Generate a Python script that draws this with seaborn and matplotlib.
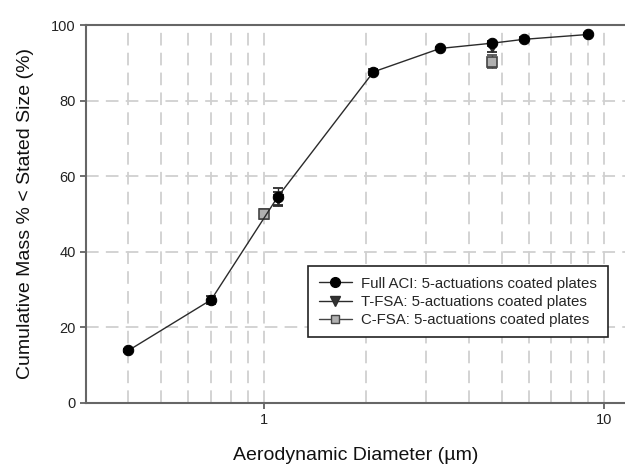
import numpy as np
import pandas as pd
import matplotlib
matplotlib.use('Agg')
import matplotlib.pyplot as plt
import seaborn as sns
from matplotlib.lines import Line2D
from matplotlib.ticker import LogLocator, NullFormatter, FixedLocator, FixedFormatter

# 数据
aci_x = [0.4, 0.7, 1.1, 2.1, 3.3, 4.7, 5.8, 9.0]
aci_y = [13.9, 27.3, 54.6, 87.6, 93.8, 95.2, 96.2, 97.5]
aci_err = [0.5, 1.0, 2.2, 0.7, 0.5, 0.7, 0.5, 0.4]

tfsa_x = [1.1, 4.7]
tfsa_y = [54.0, 94.3]
tfsa_err = [1.8, 1.4]

cfsa_x = [1.0, 4.7]
cfsa_y = [50.0, 90.3]
cfsa_err = [1.3, 1.7]

labels = ['Full ACI: 5-actuations coated plates',
          'T-FSA: 5-actuations coated plates',
          'C-FSA: 5-actuations coated plates']

sns.set_theme(style='ticks')
plt.rcParams['font.family'] = ['Liberation Sans', 'DejaVu Sans']

fig = plt.figure(figsize=(6.25, 4.7), dpi=100)
ax = fig.add_axes([0.1376, 0.1426, 0.8624, 0.8042])

dark = '#2b2b2b'
df = pd.DataFrame({'x': aci_x, 'y': aci_y})
sns.lineplot(data=df, x='x', y='y', ax=ax, color=dark, lw=1.0, marker='o',
             markersize=7.5, markerfacecolor='black', markeredgecolor='black', zorder=4)
ax.errorbar(aci_x, aci_y, yerr=aci_err, fmt='none', ecolor=dark, elinewidth=1,
            capsize=3.5, capthick=1.3, zorder=3)

ax.errorbar(tfsa_x, tfsa_y, yerr=tfsa_err, fmt='v', color=dark, ms=7,
            mfc='#333333', mec=dark, ecolor=dark, elinewidth=1, capsize=3.5,
            capthick=1.3, zorder=3)
ax.errorbar(cfsa_x, cfsa_y, yerr=cfsa_err, fmt='s', color='#444444', ms=6.5,
            mfc='#b0b0b0', mec='#444444', mew=1.2, ecolor='#444444', elinewidth=1,
            capsize=3.5, capthick=1.3, zorder=3)

ax.set_xscale('log')
ax.set_xlim(0.3, 11.53)
ax.set_ylim(0, 100)
ax.xaxis.set_major_locator(FixedLocator([1, 10]))
ax.xaxis.set_major_formatter(FixedFormatter(['1', '10']))
ax.xaxis.set_minor_locator(LogLocator(base=10, subs=np.arange(2, 10)))
ax.xaxis.set_minor_formatter(NullFormatter())
ax.set_yticks([0, 20, 40, 60, 80, 100])

grid_kw = dict(color='#d0d0d0', linestyle=(0, (7, 4)), linewidth=1.3)
ax.grid(True, which='both', axis='x', **grid_kw)
ax.grid(True, which='major', axis='y', **grid_kw)
ax.set_axisbelow(True)

ax.tick_params(axis='both', which='major', direction='out', length=4, width=1.2,
               color='#555555', labelsize=10.5, labelcolor='#222222')
ax.tick_params(axis='x', which='minor', length=0)

for side in ['left', 'bottom', 'top']:
    ax.spines[side].set_color('#666666')
    ax.spines[side].set_linewidth(1.5)
ax.spines['right'].set_visible(False)

ax.set_xlabel('Aerodynamic Diameter (µm)', fontsize=14, color='#111111', labelpad=14)
ax.set_ylabel('Cumulative Mass % < Stated Size (%)', fontsize=14, color='#111111', labelpad=12)

handles = [
    Line2D([], [], color=dark, lw=1, marker='o', ms=7, mfc='black', mec='black'),
    Line2D([], [], color=dark, lw=1, marker='v', ms=6.5, mfc='#333333', mec=dark),
    Line2D([], [], color='#444444', lw=1, marker='s', ms=6, mfc='#b0b0b0', mec='#444444'),
]
leg = ax.legend(handles, labels, loc='upper left', bbox_to_anchor=(0.398, 0.382),
                fontsize=10.8, frameon=True, fancybox=False, edgecolor='#222222',
                framealpha=1, handlelength=2.2, borderpad=0.7, labelspacing=0.28,
                handletextpad=0.65)
leg.get_frame().set_linewidth(1.2)

fig.savefig('out.png', dpi=100)
